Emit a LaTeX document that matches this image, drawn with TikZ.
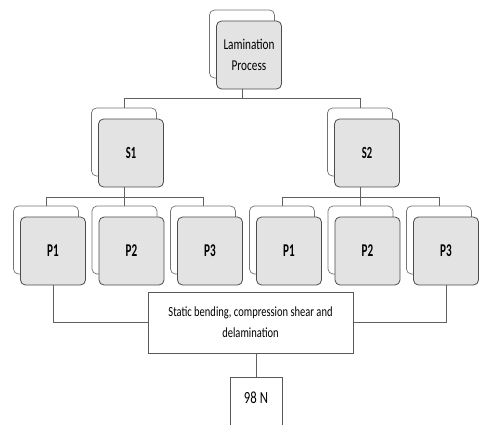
\documentclass[tikz,border=0pt]{standalone}
\usepackage{fontspec}
\setmainfont{Carlito}[FakeStretch=0.75]
\newfontfamily\labelfont{Carlito}[FakeStretch=0.62]
\usetikzlibrary{positioning}

\tikzset{
	backbox/.style={draw=gray!90!black, fill=white, rounded corners=5pt, line width=0.7pt,
		minimum width=\bw, minimum height=\bh, inner sep=0pt},
	frontbox/.style={draw=gray!60!black, fill=gray!22, rounded corners=5pt, line width=0.8pt,
		minimum width=\bw, minimum height=\bh, inner sep=0pt, align=center},
	plainbox/.style={draw=gray!70!black, fill=white, line width=0.7pt, inner sep=0pt, align=center},
	link/.style={draw=gray!75!black, line width=0.6pt}
}

\begin{document}
\begin{tikzpicture}[x={(1pt,0)}, y={(0,-1pt)}]
		\def \bw {65pt}
		\def \bh {68pt}
		\useasboundingbox (0,0) rectangle (483,424);
		
		%top box
		\node[backbox] (lamB) at (242,44) {};
		\node[frontbox, font=\fontsize{15}{21}\selectfont] (lamF) at (249,55) {Lamination\\Process};
		
		%S boxes
		\node[backbox] (s1B) at (124,142) {};
		\node[frontbox, font=\labelfont\fontsize{17}{19}\bfseries] (s1F) at (131,153) {S1};
		\node[backbox] (s2B) at (360,142) {};
		\node[frontbox, font=\labelfont\fontsize{17}{19}\bfseries] (s2F) at (367,153) {S2};
		
		%P boxes of S1
		\node[backbox] (p11B) at (46,240) {};
		\node[frontbox, font=\labelfont\fontsize{18}{21}\bfseries] (p11F) at (53,251) {P1};
		\node[backbox] (p12B) at (124.5,240) {};
		\node[frontbox, font=\labelfont\fontsize{18}{21}\bfseries] (p12F) at (131.5,251) {P2};
		\node[backbox] (p13B) at (203,240) {};
		\node[frontbox, font=\labelfont\fontsize{18}{21}\bfseries] (p13F) at (210,251) {P3};
		%P boxes of S2
		\node[backbox] (p21B) at (282,240) {};
		\node[frontbox, font=\labelfont\fontsize{18}{21}\bfseries] (p21F) at (289,251) {P1};
		\node[backbox] (p22B) at (360.5,240) {};
		\node[frontbox, font=\labelfont\fontsize{18}{21}\bfseries] (p22F) at (367.5,251) {P2};
		\node[backbox] (p23B) at (439,240) {};
		\node[frontbox, font=\labelfont\fontsize{18}{21}\bfseries] (p23F) at (446,251) {P3};
		
		%test and load
		\node[plainbox, minimum width=205pt, minimum height=61pt, font=\fontsize{14}{21}\selectfont] (test) at (250.5,322.5) {\raisebox{3pt}{\begin{tabular}{@{}c@{}}Static bending, compression shear and\\delamination\end{tabular}}};
		\node[plainbox, anchor=north, minimum width=52pt, text height=26pt, text depth=30pt, font=\fontsize{17}{20}\selectfont] (load) at (256,377) {98 N};
		
		%tree lines
		\draw[link] (lamB.center |- lamF.south) -- ++(0,9) -| (s1B.north);
		\draw[link] (lamB.center |- lamF.south) -- ++(0,9) -| (s2B.north);
		\draw[link] (s1B.center |- s1F.south) -- ++(0,10) -| (p11B.north);
		\draw[link] (s1B.center |- s1F.south) -- ++(0,10) -| (p12B.north);
		\draw[link] (s1B.center |- s1F.south) -- ++(0,10) -| (p13B.north);
		\draw[link] (s2B.center |- s2F.south) -- ++(0,10) -| (p21B.north);
		\draw[link] (s2B.center |- s2F.south) -- ++(0,10) -| (p22B.north);
		\draw[link] (s2B.center |- s2F.south) -- ++(0,10) -| (p23B.north);
		
		%lines to test and load
		\draw[link] (p11F.south) |- (test.west);
		\draw[link] (p23F.south) |- (test.east);
		\draw[link] (load.north) -- (load.north |- test.south);
\end{tikzpicture}
\end{document}
